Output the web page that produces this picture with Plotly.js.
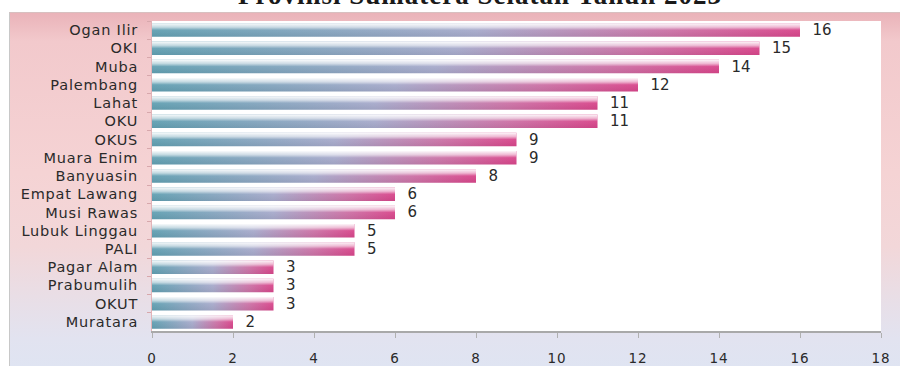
<!DOCTYPE html>
<html>
<head>
<meta charset="utf-8">
<script src="https://cdn.plot.ly/plotly-3.0.1.min.js"></script>
<style>
  html, body { margin: 0; padding: 0; background: #ffffff; }
  #wrap { position: relative; width: 900px; height: 366px; overflow: hidden; }
  #frame {
    position: absolute; left: 9px; top: 12px; width: 891px; height: 354px;
    border-left: 1px solid #c8c8c8; border-top: 1px solid #d8c0c0;
    background: linear-gradient(180deg, #eab3b9 0%, #f2c9cc 8%, #f5d3d4 45%, #f2d7d9 66%, #e9dee6 80%, #e2e3f0 92%, #dfe4f2 100%);
  }
  #chart { position: absolute; left: 0; top: 0; width: 900px; height: 366px; }
  #chart .ytick text { letter-spacing: 0.8px; }
  #chart .xtick text { letter-spacing: 0.8px; }
  #chart .bars .textpoint text { letter-spacing: 1px; }
  #chart .annotation-text { letter-spacing: 1px; }
</style>
</head>
<body>
<div id="wrap">
  <div id="frame"></div>
  <div id="chart"></div>
</div>
<script>
const categories = ["Ogan Ilir","OKI","Muba","Palembang","Lahat","OKU","OKUS","Muara Enim","Banyuasin","Empat Lawang","Musi Rawas","Lubuk Linggau","PALI","Pagar Alam","Prabumulih","OKUT","Muratara"];
const values = [16,15,14,12,11,11,9,9,8,6,6,5,5,3,3,3,2];
const xTicks = [0,2,4,6,8,10,12,14,16,18];
const titleText = "Provinsi Sumatera Selatan Tahun 2023";

const trace = {
  type: "bar",
  orientation: "h",
  x: values,
  y: categories,
  marker: { color: "#c27aa6", line: { width: 0 } },
  text: values.map(v => "\u00a0\u00a0" + v),
  textposition: "outside",
  constraintext: "none",
  cliponaxis: false,
  textfont: { family: "'DejaVu Sans', sans-serif", size: 15, color: "#2a2a2a" },
  hoverinfo: "none"
};

const layout = {
  width: 900, height: 366,
  margin: { l: 152, r: 19, t: 21, b: 35 },
  paper_bgcolor: "rgba(0,0,0,0)",
  plot_bgcolor: "#ffffff",
  bargap: 0.26,
  showlegend: false,
  font: { family: "'DejaVu Sans', sans-serif", color: "#2a2a2a" },
  xaxis: {
    range: [0, 18],
    tickvals: xTicks,
    ticktext: xTicks.map(String),
    showgrid: false, zeroline: false,
    showline: true, linecolor: "#a9a9a9", linewidth: 1.5,
    ticks: "outside", ticklen: 5, tickcolor: "#b0b0b0",
    ticklabelstandoff: 9,
    tickfont: { size: 13.5, color: "#2a2a2a" },
    fixedrange: true
  },
  yaxis: {
    autorange: "reversed",
    type: "category",
    showgrid: false, zeroline: false,
    showline: true, linecolor: "#e2b4b8", linewidth: 1,
    ticks: "outside", ticklen: 4, tickcolor: "#d7a8ac",
    tickson: "boundaries",
    ticklabelstandoff: 10,
    tickfont: { size: 14.5, color: "#2a2a2a" },
    fixedrange: true
  },
  annotations: [{
    text: "<b>" + titleText + "</b>",
    xref: "paper", yref: "paper",
    x: 0.45, y: 1, xanchor: "center", yanchor: "bottom",
    yshift: 9,
    showarrow: false,
    font: { family: "'Liberation Serif', 'DejaVu Serif', serif", size: 27, color: "#1a1a1a" }
  }]
};

Plotly.newPlot("chart", [trace], layout, { displayModeBar: false, staticPlot: true }).then(function (gd) {
  const NS = "http://www.w3.org/2000/svg";
  const svg = gd.querySelector("svg.main-svg");
  let defs = svg.querySelector("defs");
  if (!defs) { defs = document.createElementNS(NS, "defs"); svg.insertBefore(defs, svg.firstChild); }
  function grad(id, x2, y2, stops) {
    const g = document.createElementNS(NS, "linearGradient");
    g.setAttribute("id", id);
    g.setAttribute("x1", "0"); g.setAttribute("y1", "0");
    g.setAttribute("x2", x2); g.setAttribute("y2", y2);
    stops.forEach(s => {
      const st = document.createElementNS(NS, "stop");
      st.setAttribute("offset", s[0]);
      st.setAttribute("stop-color", s[1]);
      st.setAttribute("stop-opacity", s[2]);
      g.appendChild(st);
    });
    defs.appendChild(g);
  }
  grad("hgrad", "1", "0", [["0", "#62a0b2", 1], ["0.5", "#a7aacb", 1], ["0.8", "#cc72a6", 1], ["1", "#d8468b", 1]]);
  grad("vgrad", "0", "1", [["0", "#ffffff", 0.95], ["0.28", "#ffffff", 0.6], ["0.5", "#ffffff", 0.05], ["1", "#000000", 0.05]]);
  gd.querySelectorAll(".trace.bars .point path").forEach(p => {
    p.style.fill = "url(#hgrad)";
    p.style.fillOpacity = "1";
    const c = p.cloneNode(true);
    c.style.fill = "url(#vgrad)";
    c.style.stroke = "none";
    p.parentNode.insertBefore(c, p.nextSibling);
  });
});
</script>
</body>
</html>
